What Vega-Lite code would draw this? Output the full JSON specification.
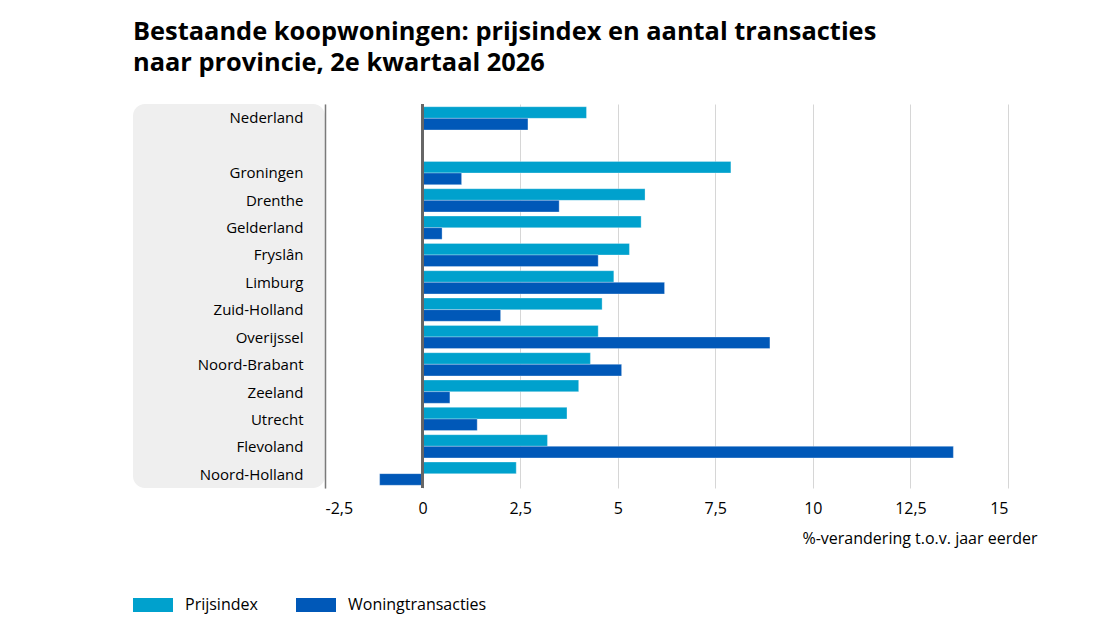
{
  "$schema": "https://vega.github.io/schema/vega-lite/v6.json",
  "padding": {"left": 133, "top": 19, "right": 10, "bottom": 5},
  "background": "#ffffff",
  "title": {
    "text": ["Bestaande koopwoningen: prijsindex en aantal transacties", "naar provincie, 2e kwartaal 2026"],
    "anchor": "start",
    "font": "Open Sans",
    "fontSize": 25.4,
    "fontWeight": "bold",
    "color": "#000000",
    "lineHeight": 31,
    "offset": 27
  },
  "config": {
    "font": "Open Sans",
    "view": {"stroke": null},
    "concat": {"spacing": 0},
    "axis": {"labelFont": "Open Sans", "titleFont": "Open Sans", "labelColor": "#000000", "titleColor": "#000000"},
    "legend": {"labelFont": "Open Sans"}
  },
  "datasets": {
    "d": [
      {"regio": "Nederland", "serie": "Prijsindex", "waarde": 4.2},
      {"regio": "Nederland", "serie": "Woningtransacties", "waarde": 2.7},
      {"regio": "Groningen", "serie": "Prijsindex", "waarde": 7.9},
      {"regio": "Groningen", "serie": "Woningtransacties", "waarde": 1.0},
      {"regio": "Drenthe", "serie": "Prijsindex", "waarde": 5.7},
      {"regio": "Drenthe", "serie": "Woningtransacties", "waarde": 3.5},
      {"regio": "Gelderland", "serie": "Prijsindex", "waarde": 5.6},
      {"regio": "Gelderland", "serie": "Woningtransacties", "waarde": 0.5},
      {"regio": "Fryslân", "serie": "Prijsindex", "waarde": 5.3},
      {"regio": "Fryslân", "serie": "Woningtransacties", "waarde": 4.5},
      {"regio": "Limburg", "serie": "Prijsindex", "waarde": 4.9},
      {"regio": "Limburg", "serie": "Woningtransacties", "waarde": 6.2},
      {"regio": "Zuid-Holland", "serie": "Prijsindex", "waarde": 4.6},
      {"regio": "Zuid-Holland", "serie": "Woningtransacties", "waarde": 2.0},
      {"regio": "Overijssel", "serie": "Prijsindex", "waarde": 4.5},
      {"regio": "Overijssel", "serie": "Woningtransacties", "waarde": 8.9},
      {"regio": "Noord-Brabant", "serie": "Prijsindex", "waarde": 4.3},
      {"regio": "Noord-Brabant", "serie": "Woningtransacties", "waarde": 5.1},
      {"regio": "Zeeland", "serie": "Prijsindex", "waarde": 4.0},
      {"regio": "Zeeland", "serie": "Woningtransacties", "waarde": 0.7},
      {"regio": "Utrecht", "serie": "Prijsindex", "waarde": 3.7},
      {"regio": "Utrecht", "serie": "Woningtransacties", "waarde": 1.4},
      {"regio": "Flevoland", "serie": "Prijsindex", "waarde": 3.2},
      {"regio": "Flevoland", "serie": "Woningtransacties", "waarde": 13.6},
      {"regio": "Noord-Holland", "serie": "Prijsindex", "waarde": 2.4},
      {"regio": "Noord-Holland", "serie": "Woningtransacties", "waarde": -1.1}
    ]
  },
  "hconcat": [
    {
      "width": 192,
      "height": 384,
      "view": {"fill": "#efefef", "cornerRadius": 12, "stroke": null},
      "data": {"name": "d"},
      "mark": {"type": "point", "opacity": 0},
      "encoding": {
        "y": {
          "field": "regio",
          "type": "nominal",
          "scale": {
            "domain": ["Nederland", " ", "Groningen", "Drenthe", "Gelderland", "Fryslân", "Limburg", "Zuid-Holland", "Overijssel", "Noord-Brabant", "Zeeland", "Utrecht", "Flevoland", "Noord-Holland"],
            "paddingInner": 0.15,
            "paddingOuter": 0.1
          },
          "axis": {
            "orient": "right",
            "title": null,
            "ticks": false,
            "domain": false,
            "grid": false,
            "labelAlign": "right",
            "labelPadding": -22,
            "labelFontSize": 15,
            "labelColor": "#000000"
          }
        }
      }
    },
    {
      "width": 683,
      "height": 384,
      "data": {"name": "d"},
      "layer": [
        {
          "mark": {"type": "bar", "stroke": "#ffffff", "strokeWidth": 0.5, "strokeOpacity": 0.6},
          "encoding": {
            "y": {
              "field": "regio",
              "type": "nominal",
              "scale": {
                "domain": ["Nederland", " ", "Groningen", "Drenthe", "Gelderland", "Fryslân", "Limburg", "Zuid-Holland", "Overijssel", "Noord-Brabant", "Zeeland", "Utrecht", "Flevoland", "Noord-Holland"],
                "paddingInner": 0.15,
                "paddingOuter": 0.1
              },
              "axis": {
                "title": null,
                "labels": false,
                "ticks": false,
                "grid": false,
                "domain": true,
                "domainColor": "#7a7a7a",
                "domainWidth": 1.5
              }
            },
            "yOffset": {"field": "serie", "type": "nominal", "scale": {"paddingInner": 0, "paddingOuter": 0}},
            "x": {
              "field": "waarde",
              "type": "quantitative",
              "scale": {"domain": [-2.5, 15], "nice": false},
              "axis": {
                "values": [-2.5, 0, 2.5, 5, 7.5, 10, 12.5, 15],
                "labelExpr": "replace(toString(datum.value), '.', ',')",
                "labelFontSize": 16,
                "labelPadding": 12,
                "ticks": false,
                "domain": false,
                "grid": true,
                "gridColor": "#d6d6d6",
                "gridWidth": 1,
                "title": "%-verandering t.o.v. jaar eerder",
                "titleFontSize": 16,
                "titleFontWeight": "normal",
                "titleAnchor": "end",
                "titleAlign": "right",
                "titleX": 712,
                "titlePadding": 14
              }
            },
            "color": {
              "field": "serie",
              "type": "nominal",
              "scale": {"domain": ["Prijsindex", "Woningtransacties"], "range": ["#00a1cd", "#0058b8"]},
              "legend": {
                "title": null,
                "orient": "bottom",
                "direction": "horizontal",
                "symbolType": "M-1,-0.35H1V0.35H-1Z",
                "symbolSize": 1600,
                "symbolStrokeWidth": 0,
                "symbolOpacity": 1,
                "labelFontSize": 16,
                "labelOffset": 12,
                "columnPadding": 38,
                "offset": 39
              }
            }
          }
        },
        {
          "mark": {"type": "rule", "color": "#666666", "strokeWidth": 2},
          "encoding": {"x": {"datum": 0}}
        }
      ]
    }
  ]
}
